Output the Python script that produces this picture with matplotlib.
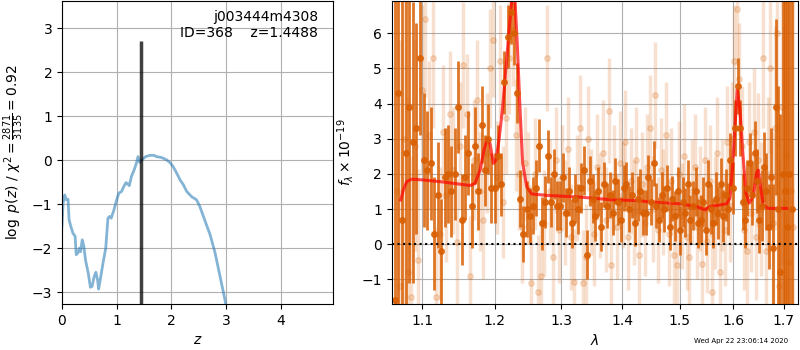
import numpy as np
import matplotlib
matplotlib.use("Agg")
import matplotlib.pyplot as plt
from matplotlib.ticker import FixedLocator, NullLocator


# Redshift fit parameters
target = "j003444m4308"
obj_id = 368
z_best = 1.4488
chi2_num, chi2_den, chi2_red = 2871, 3135, 0.92
date_str = "Wed Apr 22 23:06:14 2020"

# log p(z) curve
pz_z = [0.0, 0.02, 0.05, 0.08, 0.11, 0.13, 0.16, 0.20, 0.24, 0.26, 0.29, 0.32, 0.34, 0.37,
        0.40, 0.43, 0.48, 0.52, 0.55, 0.59, 0.62, 0.65, 0.67, 0.71, 0.75, 0.80, 0.84, 0.87,
        0.90, 0.95, 1.00, 1.04, 1.09, 1.13, 1.17, 1.20, 1.23, 1.27, 1.32, 1.36, 1.39, 1.42,
        1.47, 1.53, 1.61, 1.68, 1.73, 1.82, 1.91, 1.97, 2.03, 2.10, 2.16, 2.22, 2.28, 2.37,
        2.46, 2.52, 2.61, 2.71, 2.80, 2.89, 2.98, 3.01]
pz_logp = [-1.50, -0.98, -0.79, -0.90, -0.89, -1.36, -1.50, -1.66, -1.73, -2.15, -2.11, -2.00,
           -2.08, -1.81, -1.96, -2.27, -2.57, -2.89, -2.87, -2.64, -2.55, -2.72, -2.93, -2.64,
           -2.34, -2.00, -1.32, -1.28, -1.32, -1.13, -0.90, -0.75, -0.71, -0.60, -0.51, -0.54,
           -0.58, -0.37, -0.22, -0.07, 0.08, -0.05, 0.02, 0.08, 0.11, 0.11, 0.08, 0.06, 0.01,
           -0.05, -0.14, -0.30, -0.45, -0.56, -0.71, -0.83, -0.90, -1.05, -1.36, -1.70, -2.11,
           -2.64, -3.17, -3.40]
pz_peak = 2.72

# Spectrum, binned (dark) series, microns / 1e-19 flux units
wave_bin = np.linspace(1.064, 1.7167, 140)
flux_bin = [-1.6, 4.3, 0.7, 2.6, 3.9, 2.9, 3.3, 5.3, 2.4, 2.1,
            2.3, 0.3, 1.4, -0.2, 1.9, 2.0, 1.5, 2.0, 3.9, 0.7,
            1.9, 2.6, 1.1, 2.8, 1.5, 3.4, 2.1, 3.0, 1.6, 1.6,
            2.5, 1.7, 4.6, 5.9, 6.6, 6.0, 4.3, 1.3, 0.3, 1.0,
            0.8, 1.1, 1.6, 2.8, 0.6, 1.2, 2.5, 1.2, 2.0, 1.1,
            1.1, 1.9, 0.9, 1.5, 0.6, 1.3, 1.0, 1.6, 2.1, -0.3,
            1.8, 1.3, 0.8, 1.5, 0.5, 1.7, 1.1, 1.4, 0.9, 1.8,
            1.2, 0.7, 1.6, 1.7, 1.0, 1.4, 0.6, 1.3, 1.5, 0.9,
            0.9, 1.9, 1.2, 2.3, 1.1, 0.7, 1.4, 1.0, 1.6, 0.5,
            1.3, 0.8, 1.5, 0.4, 1.2, 0.9, 1.7, 0.7, 1.1, 1.5,
            0.6, 0.7, 1.2, 0.4, 1.7, 1.0, 0.6, 1.3, 0.9, 1.7,
            0.8, 1.4, 1.0, 2.4, 1.6, 3.3, 4.5, 3.3, 1.2, 0.7,
            1.6, 2.3, 1.4, 2.6, 1.8, 0.7, 1.1, 2.2, 1.5, 0.5,
            1.9, -0.1, 3.9, 1.0, -0.8, 2.0, 1.5, 0.5, 2.0, 1.0]
err_bin = [9, 8, 7, 6, 5, 4, 3, 2.2, 1.9, 1.7,
           1.6, 1.6, 1.5, 1.5, 1.4, 1.4, 1.3, 1.3, 1.3, 1.3,
           1.2, 1.2, 1.2, 1.1, 1.1, 1.1, 1.0, 1.0, 1.0, 1.0,
           0.9, 0.9, 0.9, 0.9, 0.9, 0.9, 0.85, 0.8, 0.8, 0.8,
           0.8, 0.8, 0.8, 0.75, 0.75, 0.75, 0.75, 0.7, 0.7, 0.7,
           0.7, 0.7, 0.7, 0.7, 0.7, 0.7, 0.7, 0.7, 0.7, 0.7,
           0.7, 0.7, 0.7, 0.7, 0.7, 0.65, 0.65, 0.65, 0.65, 0.65,
           0.65, 0.65, 0.65, 0.65, 0.65, 0.65, 0.65, 0.65, 0.65, 0.65,
           0.65, 0.65, 0.65, 0.65, 0.65, 0.65, 0.65, 0.65, 0.65, 0.65,
           0.65, 0.7, 0.7, 0.7, 0.7, 0.7, 0.7, 0.7, 0.7, 0.7,
           0.7, 0.7, 0.7, 0.7, 0.7, 0.7, 0.7, 0.75, 0.75, 0.75,
           0.75, 0.75, 0.75, 0.75, 0.75, 0.8, 0.8, 0.8, 0.8, 0.8,
           0.8, 0.85, 0.85, 0.9, 0.9, 0.95, 1.0, 1.0, 1.1, 1.2,
           1.4, 1.8, 2.5, 3.5, 4.5, 6, 7, 9, 10, 12]

# Spectrum, full-resolution (light) series
wave_raw = np.linspace(1.0665, 1.7198, 140)
flux_raw = [1.5, -1.2, 3.0, -0.8, -1.5, 2.8, -0.45, 4.4, 6.4, 3.1,
            5.3, -1.5, 0.3, 3.2, 1.4, 3.7, 2.1, 0.05, 2.8, 5.1,
            3.7, -0.9, 2.4, 4.1, 1.5, 0.7, 2.6, 5.0, 5.8, 1.9,
            5.2, 1.2, 3.6, 5.3, 6.1, 3.1, 2.0, 0.5, 2.3, 1.6,
            -1.1, 2.0, -1.35, -0.9, 0.6, 5.3, 1.5, -0.35, 2.4, 0.4,
            1.9, 0.9, 2.7, 0.2, -1.06, 1.6, 3.3, -1.1, -0.35, 3.0,
            1.2, 0.3, 2.2, 1.1, 2.6, 0.7, 3.8, -0.6, 1.9, 0.5,
            2.3, 1.4, 2.9, 0.2, 1.8, 0.9, 2.4, -0.3, 1.7, 0.6,
            2.2, 3.3, 1.0, 4.25, 0.4, 2.1, 1.2, 3.1, 0.3, 1.8,
            -0.3, -0.6, 2.0, 0.8, 2.5, 0.2, -0.35, 1.5, 2.2, 0.5,
            1.3, -0.55, 2.4, 0.1, 1.8, -1.35, 0.9, 2.6, -0.8, 1.4,
            0.4, 2.9, 1.1, 3.0, 5.2, 6.7, 4.7, 2.8, 0.4, -0.2,
            2.9, 0.9, 3.2, 0.2, 2.4, 1.0, 5.3, -0.2, 2.0, 5.0,
            0.6, 3.3, 6.0, -1.2, 3.9, 1.2, 2.5, -0.5, 1.5, 0.5]
err_raw = [8, 7, 6, 5, 4, 3.0, 2.6, 2.4, 2.2, 2.1,
           2.0, 2.0, 1.9, 1.9, 1.9, 1.8, 1.8, 1.8, 1.8, 1.8,
           1.7, 1.7, 1.7, 1.7, 1.7, 1.7, 1.7, 1.7, 1.6, 1.6,
           1.6, 1.6, 1.6, 1.6, 1.6, 1.6, 1.6, 1.6, 1.6, 1.6,
           1.6, 1.6, 1.6, 1.5, 1.5, 1.5, 1.5, 1.5, 1.5, 1.5,
           1.5, 1.5, 1.5, 1.5, 1.5, 1.5, 1.5, 1.5, 1.5, 1.5,
           1.5, 1.5, 1.5, 1.5, 1.5, 1.5, 1.5, 1.5, 1.5, 1.5,
           1.5, 1.5, 1.5, 1.5, 1.5, 1.5, 1.5, 1.5, 1.5, 1.5,
           1.5, 1.5, 1.5, 1.5, 1.5, 1.5, 1.5, 1.5, 1.5, 1.5,
           1.5, 1.5, 1.5, 1.5, 1.5, 1.5, 1.5, 1.5, 1.5, 1.5,
           1.5, 1.5, 1.5, 1.5, 1.6, 1.6, 1.6, 1.6, 1.6, 1.6,
           1.6, 1.6, 1.6, 1.6, 1.6, 1.6, 1.6, 1.7, 1.7, 1.7,
           1.7, 1.7, 1.8, 1.8, 1.9, 1.9, 2.0, 2.1, 2.2, 2.4,
           2.6, 2.9, 3.2, 3.6, 4.5, 5, 6, 8, 9, 10]

# Best-fit model
model_wave = [1.0716, 1.0751, 1.0794, 1.0860, 1.1000, 1.1237, 1.1465, 1.1650, 1.1720, 1.1792,
              1.1848, 1.1896, 1.1934, 1.1983, 1.2021, 1.2064, 1.2118, 1.2167, 1.2216, 1.2249,
              1.2274, 1.2300, 1.2334, 1.2374, 1.2413, 1.2473, 1.2548, 1.2778, 1.3301, 1.3846,
              1.4298, 1.4413, 1.5004, 1.5310, 1.5465, 1.5559, 1.5872, 1.5936, 1.5987, 1.6032,
              1.6077, 1.6129, 1.6181, 1.6246, 1.6311, 1.6390, 1.6456, 1.6489, 1.6535, 1.6588,
              1.6689, 1.7061]
model_flux = [1.26, 1.55, 1.78, 1.85, 1.83, 1.78, 1.72, 1.67, 1.73, 2.11,
              2.68, 3.01, 2.87, 2.30, 2.40, 2.97, 3.91, 5.05, 6.19, 6.90,
              7.30, 6.90, 5.62, 3.82, 2.30, 1.64, 1.43, 1.39, 1.34, 1.26,
              1.24, 1.21, 1.15, 1.07, 0.98, 1.07, 1.15, 1.31, 2.21, 3.35,
              4.40, 3.82, 2.68, 1.45, 1.17, 1.36, 2.02, 2.11, 1.64, 1.12,
              1.02, 1.02]

wave_ticks = [1.1, 1.2, 1.3, 1.4, 1.5, 1.6, 1.7]
spec_color = "#d95f02"

fig = plt.figure(figsize=(8, 3.5), dpi=100)
ax1 = fig.add_axes([0.0775, 0.1314, 0.339, 0.866])
ax2 = fig.add_axes([0.4896, 0.1314, 0.508, 0.866])

# p(z) panel
ax1.plot(pz_z, pz_logp, color="#1f77b4", alpha=0.55, lw=2)
ax1.vlines(z_best, -4, pz_peak, color="k", alpha=0.75, lw=2.5)
ax1.set_xlim(0, 4.96)
ax1.set_ylim(-3.27, 3.62)
ax1.set_xlabel(r"$z$")
ax1.set_ylabel(r"$\log\ p(z)$" + " / " +
               r"$\chi^2=\frac{%d}{%d}=%.2f$" % (chi2_num, chi2_den, chi2_red))
ax1.grid()
ax1.text(0.945, 0.97, f"{target}\nID={obj_id}    z={z_best:.4f}",
         ha="right", va="top", transform=ax1.transAxes, fontsize=10)

# Spectrum panel
ax2.errorbar(wave_raw, flux_raw, yerr=err_raw, fmt="o", color=spec_color, alpha=0.19,
             ms=4, elinewidth=2.5, capsize=0)
ax2.errorbar(wave_bin, flux_bin, yerr=err_bin, fmt="o", color=spec_color, alpha=0.85,
             ms=4, elinewidth=2, capsize=0)
ax2.plot(model_wave, model_flux, color="r", alpha=0.7, lw=2.2)
ax2.axhline(0, color="k", ls=":", lw=1.5)
ax2.set_xscale("log")
ax2.xaxis.set_major_locator(FixedLocator(wave_ticks))
ax2.xaxis.set_minor_locator(NullLocator())
ax2.set_xticklabels([f"{w:.1f}" for w in wave_ticks])
ax2.set_xlim(1.060, 1.730)
ax2.set_ylim(-1.70, 6.92)
ax2.set_xlabel(r"$\lambda$")
ax2.set_ylabel(r"$f_\lambda \times 10^{-19}$")
ax2.grid()

fig.text(0.985, 0.018, date_str, ha="right", va="bottom", fontsize=5)

fig.savefig("out.png", dpi=100)
